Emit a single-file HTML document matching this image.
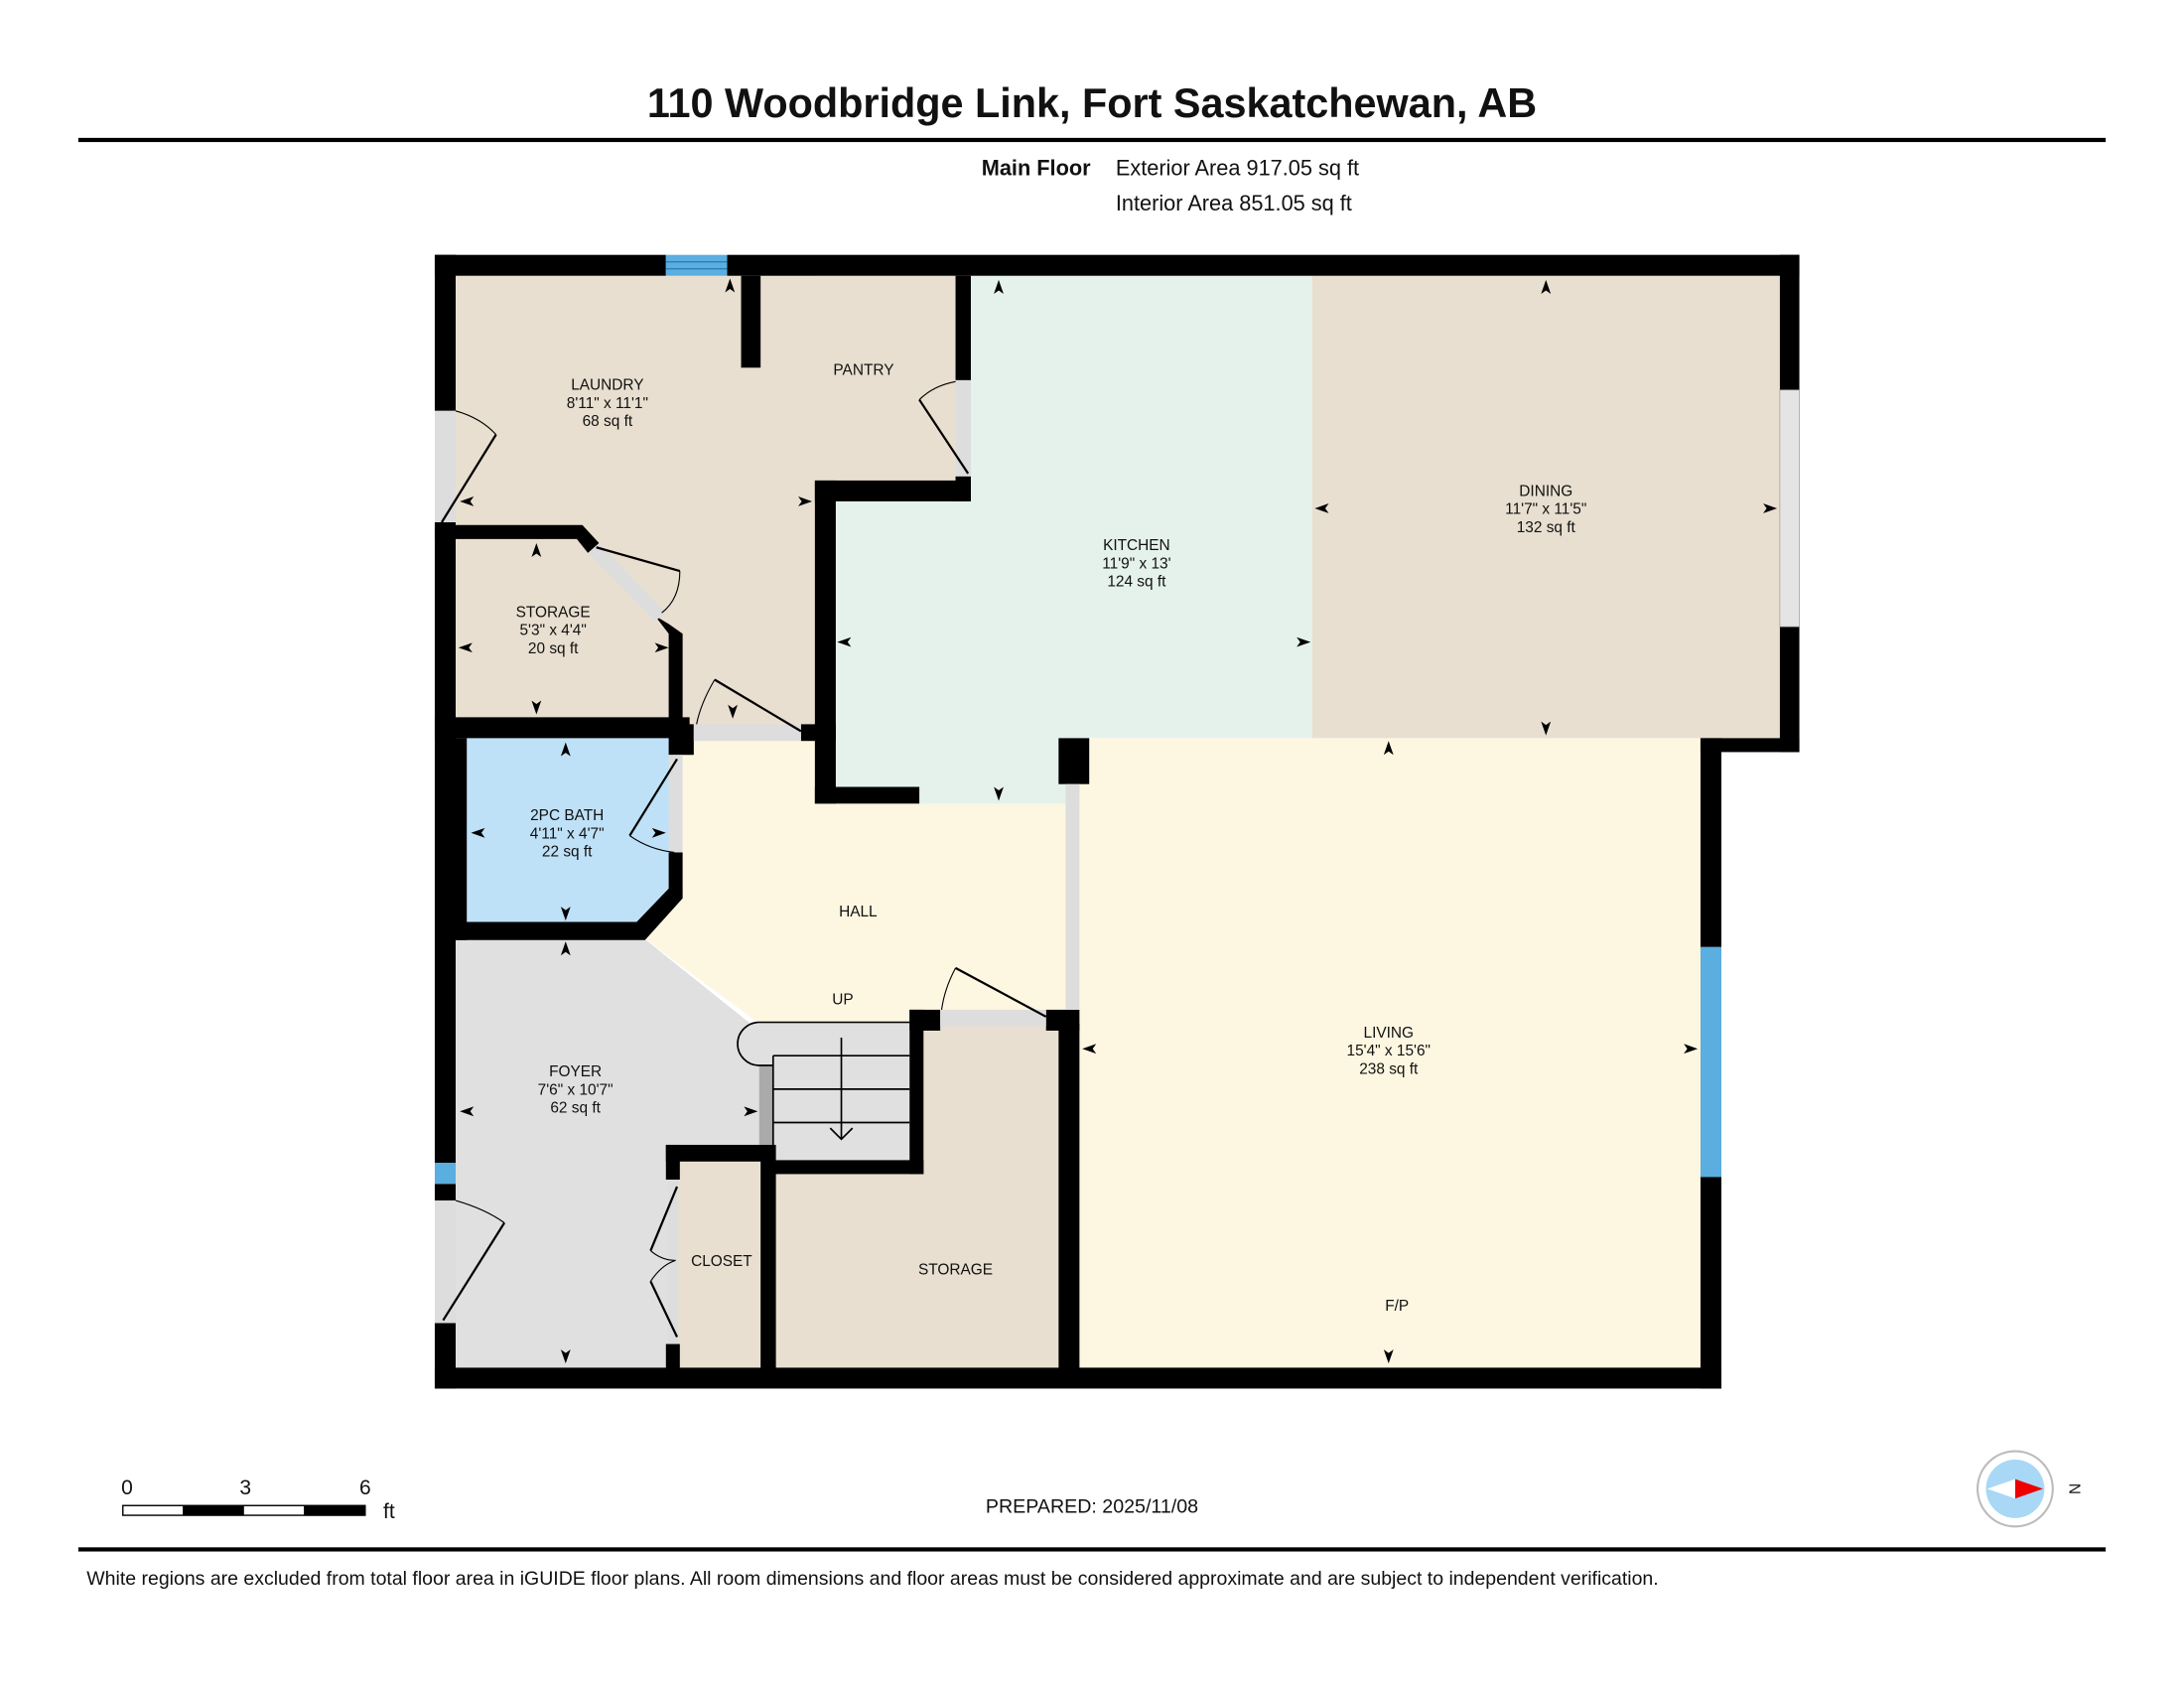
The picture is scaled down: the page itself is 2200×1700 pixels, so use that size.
<!DOCTYPE html>
<html><head><meta charset="utf-8"><style>
html,body{margin:0;padding:0;background:#fff}
svg{display:block}
text{font-family:"Liberation Sans",Arial,sans-serif;fill:#111}
</style></head><body>
<svg width="2200" height="1700" viewBox="0 0 1568 1212" xmlns="http://www.w3.org/2000/svg">
<defs><path id="a" d="M0,-6 L3.5,4 L0,1.5 L-3.5,4Z" fill="#000"/></defs>
<rect width="1568" height="1212" fill="#fff"/>
<text x="784" y="84" font-size="29.5" font-weight="bold" text-anchor="middle">110 Woodbridge Link, Fort Saskatchewan, AB</text>
<rect x="56" y="99" width="1456" height="3" fill="#000"/>
<text x="783" y="126" font-size="15.5" font-weight="bold" text-anchor="end">Main Floor</text>
<text x="801" y="126" font-size="15.5">Exterior Area 917.05 sq ft</text>
<text x="801" y="151" font-size="15.5">Interior Area 851.05 sq ft</text>

<!-- room fills -->
<rect x="327" y="198" width="260" height="325" fill="#e8dfd0"/>
<rect x="540" y="198" width="152" height="150" fill="#e8dfd0"/>
<rect x="942" y="198" width="336" height="332" fill="#e8dfd0"/>
<rect x="775" y="530" width="446" height="452" fill="#fdf7e2"/>
<polygon points="490,530 775,530 775,735 545,735 460,672 490,640" fill="#fdf7e2"/>
<polygon points="690,198 942,198 942,530 775,530 775,577 600,577 600,360 690,360" fill="#e5f2eb"/>
<polygon points="335,530 483,530 483,640 460,665 335,665" fill="#bfe1f8"/>
<polygon points="327,672 460,672 545,740 545,822 487,822 487,982 327,982" fill="#e0e0e0"/>
<rect x="530" y="735" width="125" height="100" fill="#e0e0e0"/>
<rect x="487" y="828" width="62" height="154" fill="#e8dfd0"/>
<polygon points="555,840 660,840 660,735 760,735 760,982 555,982" fill="#e8dfd0"/>

<!-- walls -->
<g fill="#000">
<rect x="312" y="183" width="166" height="15"/>
<rect x="522" y="183" width="770" height="15"/>
<rect x="312" y="183" width="15" height="112"/>
<rect x="312" y="375" width="15" height="460"/>
<rect x="312" y="850" width="15" height="12"/>
<rect x="312" y="950" width="15" height="47"/>
<rect x="312" y="982" width="924" height="15"/>
<rect x="1278" y="183" width="14" height="97"/>
<rect x="1278" y="450" width="14" height="90"/>
<rect x="1221" y="530" width="71" height="10"/>
<rect x="1221" y="530" width="15" height="150"/>
<rect x="1221" y="845" width="15" height="152"/>
<rect x="532" y="198" width="14" height="66"/>
<rect x="686" y="198" width="11" height="75"/>
<rect x="686" y="342" width="11" height="18"/>
<rect x="585" y="345" width="112" height="15"/>
<rect x="585" y="345" width="15" height="232"/>
<rect x="585" y="565" width="75" height="12"/>
<polygon points="312,377 418,377 430,390 422,397 414,387 312,387"/>
<polygon points="470,442 480,448 490,455 490,527 480,527 480,455"/>
<rect x="312" y="515" width="183" height="15"/>
<rect x="575" y="520" width="25" height="12"/>
<rect x="480" y="520" width="18" height="22"/>
<rect x="320" y="530" width="15" height="145"/>
<polygon points="480,612 490,612 490,645 463,675 320,675 320,662 457,662 480,638"/>
<rect x="760" y="530" width="22" height="33"/>
<rect x="653" y="725" width="22" height="15"/>
<rect x="751" y="725" width="24" height="15"/>
<rect x="653" y="725" width="10" height="118"/>
<rect x="555" y="833" width="108" height="10"/>
<rect x="478" y="822" width="77" height="12"/>
<rect x="478" y="822" width="10" height="25"/>
<rect x="478" y="965" width="10" height="25"/>
<rect x="546" y="822" width="11" height="168"/>
<rect x="760" y="735" width="15" height="255"/>
</g>
<!-- windows -->
<rect x="478" y="183" width="44" height="15" fill="#5aaee0"/>
<g stroke="#2a7fb8" stroke-width="1"><line x1="478" y1="188" x2="522" y2="188"/><line x1="478" y1="193" x2="522" y2="193"/></g>
<rect x="1221" y="680" width="15" height="165" fill="#5aaee0"/>
<rect x="312" y="835" width="15" height="15" fill="#5aaee0"/>
<rect x="1278" y="280" width="14" height="170" fill="#e4e4e4" stroke="#999" stroke-width="0.5"/>
<!-- door openings -->
<g fill="#ddd">
<rect x="312" y="295" width="15" height="80"/>
<rect x="312" y="862" width="15" height="88"/>
<rect x="686" y="273" width="11" height="69"/>
<polygon points="422,397 430,390 478,440 470,446"/>
<rect x="498" y="520" width="77" height="12"/>
<rect x="480" y="542" width="10" height="70"/>
<rect x="675" y="725" width="76" height="12"/>
<rect x="765" y="563" width="10" height="162"/>
<rect x="480" y="847" width="7" height="118"/>
</g>
<rect x="545" y="765" width="10" height="57" fill="#aaa"/>
<!-- door swings -->
<g stroke="#000" fill="none" stroke-width="1.6">
<path d="M317,375 L356,312"/><path d="M327,295 Q345,300 356,312" stroke-width="0.8"/>
<path d="M695,340 L660,287"/><path d="M686,274 Q670,277 660,287" stroke-width="0.8"/>
<path d="M428,393 L488,410"/><path d="M488,410 Q488,430 475,440" stroke-width="0.8"/>
<path d="M575,525 L513,488"/><path d="M513,488 Q503,505 500,520" stroke-width="0.8"/>
<path d="M486,545 L452,600"/><path d="M452,600 Q466,610 484,612" stroke-width="0.8"/>
<path d="M751,730 L686,695"/><path d="M686,695 Q678,710 676,725" stroke-width="0.8"/>
<path d="M486,852 L467,898 M486,960 L467,920"/><path d="M467,898 Q475,905 485,905 Q475,908 467,920" stroke-width="0.8"/>
<path d="M318,948 L362,878"/><path d="M327,862 Q348,868 362,878" stroke-width="0.8"/>
</g>
<!-- stairs -->
<g stroke="#000" fill="none" stroke-width="1.2">
<path d="M653,734 L545,734 A15,15 0 0 0 545,765 L555,765"/>
<path d="M555,758 L653,758 M555,782 L653,782 M555,806 L653,806 M555,758 L555,833"/>
<path d="M604,745 L604,818 M596,810 L604,818 L612,810"/>
</g>
<!-- arrows -->
<g>
<use href="#a" transform="translate(524,206)"/><use href="#a" transform="translate(717,207)"/><use href="#a" transform="translate(1110,207)"/>
<use href="#a" transform="translate(336,360) rotate(-90)"/><use href="#a" transform="translate(577,360) rotate(90)"/>
<use href="#a" transform="translate(950,365) rotate(-90)"/><use href="#a" transform="translate(1270,365) rotate(90)"/>
<use href="#a" transform="translate(385,396)"/><use href="#a" transform="translate(335,465) rotate(-90)"/><use href="#a" transform="translate(474,465) rotate(90)"/><use href="#a" transform="translate(385,507) rotate(180)"/>
<use href="#a" transform="translate(526,510) rotate(180)"/><use href="#a" transform="translate(607,461) rotate(-90)"/><use href="#a" transform="translate(935,461) rotate(90)"/>
<use href="#a" transform="translate(717,569) rotate(180)"/><use href="#a" transform="translate(1110,522) rotate(180)"/><use href="#a" transform="translate(997,538)"/>
<use href="#a" transform="translate(406,539)"/><use href="#a" transform="translate(344,598) rotate(-90)"/><use href="#a" transform="translate(472,598) rotate(90)"/><use href="#a" transform="translate(406,655) rotate(180)"/>
<use href="#a" transform="translate(406,682)"/><use href="#a" transform="translate(336,798) rotate(-90)"/><use href="#a" transform="translate(538,798) rotate(90)"/><use href="#a" transform="translate(406,973) rotate(180)"/>
<use href="#a" transform="translate(783,753) rotate(-90)"/><use href="#a" transform="translate(1213,753) rotate(90)"/><use href="#a" transform="translate(997,973) rotate(180)"/>
</g>
<!-- labels -->
<g font-size="11" text-anchor="middle">
<text x="436" y="280">LAUNDRY</text><text x="436" y="293">8'11" x 11'1"</text><text x="436" y="306">68 sq ft</text>
<text x="620" y="269">PANTRY</text>
<text x="816" y="395">KITCHEN</text><text x="816" y="408">11'9" x 13'</text><text x="816" y="421">124 sq ft</text>
<text x="1110" y="356">DINING</text><text x="1110" y="369">11'7" x 11'5"</text><text x="1110" y="382">132 sq ft</text>
<text x="397" y="443">STORAGE</text><text x="397" y="456">5'3" x 4'4"</text><text x="397" y="469">20 sq ft</text>
<text x="407" y="589">2PC BATH</text><text x="407" y="602">4'11" x 4'7"</text><text x="407" y="615">22 sq ft</text>
<text x="616" y="658">HALL</text><text x="605" y="721">UP</text>
<text x="997" y="745">LIVING</text><text x="997" y="758">15'4" x 15'6"</text><text x="997" y="771">238 sq ft</text>
<text x="413" y="773">FOYER</text><text x="413" y="786">7'6" x 10'7"</text><text x="413" y="799">62 sq ft</text>
<text x="518" y="909">CLOSET</text><text x="686" y="915">STORAGE</text><text x="1003" y="941">F/P</text>
</g>
<!-- scale -->
<g font-size="15"><text x="91" y="1073" text-anchor="middle">0</text><text x="176" y="1073" text-anchor="middle">3</text><text x="262" y="1073" text-anchor="middle">6</text><text x="275" y="1090">ft</text></g>
<rect x="88" y="1081" width="174" height="7" fill="#fff" stroke="#000" stroke-width="1"/>
<rect x="131" y="1081" width="44" height="7" fill="#000"/><rect x="218" y="1081" width="44" height="7" fill="#000"/>
<text x="784" y="1086" font-size="14" text-anchor="middle">PREPARED: 2025/11/08</text>
<circle cx="1447" cy="1069" r="27" fill="#fff" stroke="#bbb" stroke-width="1.5"/>
<circle cx="1447" cy="1069" r="21" fill="#a8d8f5"/>
<polygon points="1427,1069 1447,1062 1447,1076" fill="#fff"/>
<polygon points="1467,1069 1447,1062 1447,1076" fill="#e00"/>
<text x="1486" y="1069" font-size="11" transform="rotate(90 1486 1069)" text-anchor="middle">N</text>
<rect x="56" y="1111" width="1456" height="3" fill="#000"/>
<text x="62" y="1138" font-size="13.9">White regions are excluded from total floor area in iGUIDE floor plans. All room dimensions and floor areas must be considered approximate and are subject to independent verification.</text>
</svg>
</body></html>
